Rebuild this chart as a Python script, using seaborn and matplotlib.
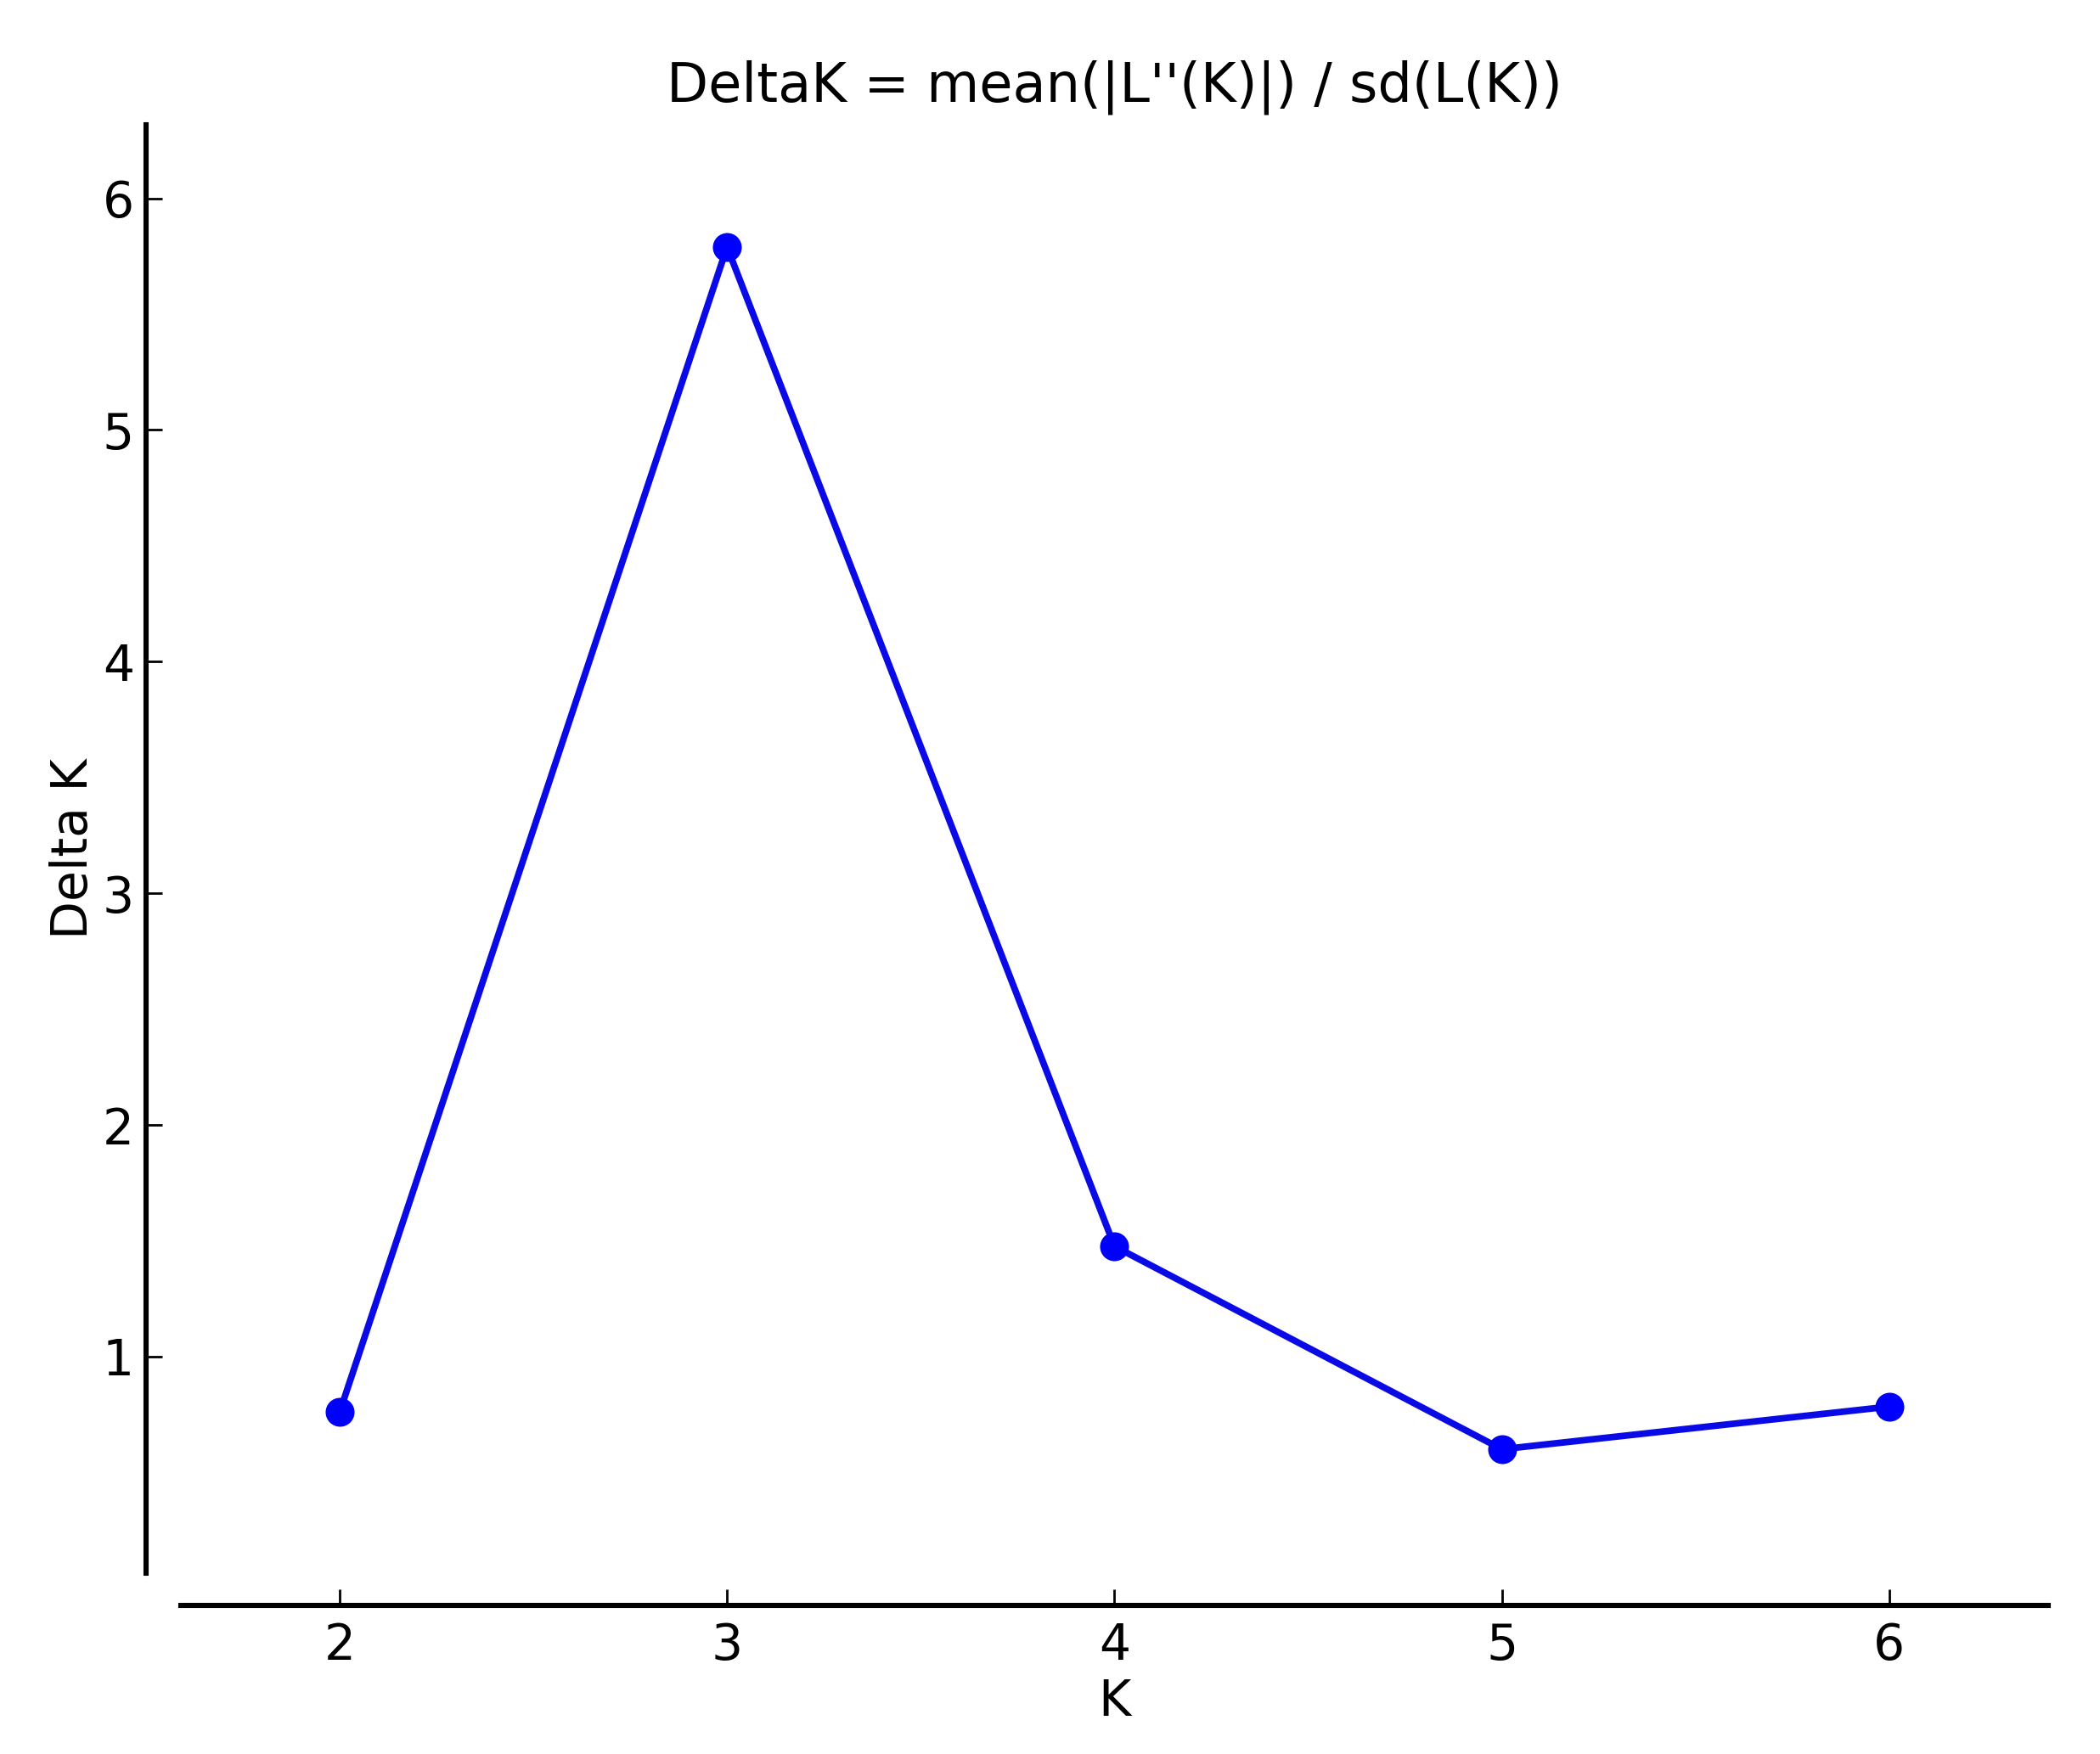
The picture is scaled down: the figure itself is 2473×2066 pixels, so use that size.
import matplotlib
matplotlib.use("Agg")
import matplotlib.pyplot as plt
import seaborn as sns
import pandas as pd

# Delta K values (Evanno method)
k_values = [2, 3, 4, 5, 6]
delta_k = [0.76, 5.79, 1.476, 0.60, 0.784]
x_ticks = [2, 3, 4, 5, 6]
y_ticks = [1, 2, 3, 4, 5, 6]


def make_plot():
    sns.set_style("ticks")
    plt.rcParams['font.family'] = ['DejaVu Sans']
    plt.rcParams['text.color'] = 'black'
    plt.rcParams['axes.labelcolor'] = 'black'

    df = pd.DataFrame({'K': k_values, 'Delta K': delta_k})

    fig, ax = plt.subplots(figsize=(12.365, 10.33), dpi=200)
    fig.subplots_adjust(left=0.0861, right=0.9753, top=0.9288, bottom=0.1031)

    sns.lineplot(x='K', y='Delta K', data=df, ax=ax, color='#0a0ae6',
                 marker='o', markersize=11.5, markeredgecolor='blue',
                 markerfacecolor='blue', linewidth=2.8)

    ax.set_xlim(1.59, 6.41)
    ax.set_ylim(0.065, 6.317)
    ax.set_xticks(x_ticks)
    ax.set_yticks(y_ticks)

    # offset spines, Structure Harvester style
    for side in ['top', 'right']:
        ax.spines[side].set_visible(False)
    ax.spines['left'].set_position(('outward', 14.8))
    ax.spines['bottom'].set_position(('outward', 13.7))
    for side in ['left', 'bottom']:
        ax.spines[side].set_linewidth(2.2)
        ax.spines[side].set_color('black')

    ax.tick_params(axis='both', direction='in', length=7, width=1.0,
                   labelsize=21, pad=5, colors='black',
                   bottom=True, left=True, top=False, right=False)
    ax.tick_params(axis='x', pad=7)

    ax.set_xlabel('K', fontsize=21, labelpad=3)
    ax.set_ylabel('Delta K', fontsize=21, labelpad=2)
    ax.set_title("DeltaK = mean(|L''(K)|) / sd(L(K))", fontsize=23, pad=10,
                 color='black')

    fig.savefig('out.png', dpi=200, facecolor='white')


if __name__ == "__main__":
    make_plot()
